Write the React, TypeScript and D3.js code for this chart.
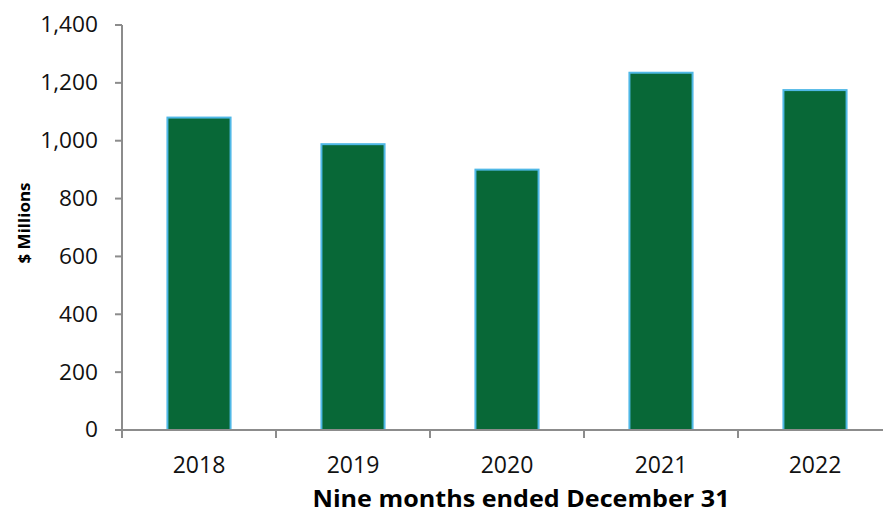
import React from "react";
import * as d3 from "d3";

const years = ["2018", "2019", "2020", "2021", "2022"];
const values = [1080, 988, 900, 1235, 1175];
const yTicks = [0, 200, 400, 600, 800, 1000, 1200, 1400];
const xTitle = "Nine months ended December 31";
const yTitle = "$ Millions";

export default function App() {
  const W = 883, H = 514;
  const left = 122, right = 892, top = 25, bottom = 430;
  const x = d3.scaleBand<string>().domain(years).range([left, right]).padding(0);
  const y = d3.scaleLinear().domain([0, 1400]).range([bottom, top]);
  const bw = x.bandwidth() * 0.41;
  const fmt = d3.format(",");
  const axisColor = "#8c8c8c";
  const font = "'Open Sans', sans-serif";
  const boundaries = [...years.map((d) => x(d) as number), right];
  return (
    <svg width={W} height={H} style={{ position: "absolute", left: 0, top: 0, background: "#fff" }}>
      {years.map((d, i) => {
        const cx = (x(d) as number) + x.bandwidth() / 2;
        return (
          <rect
            key={d}
            x={cx - bw / 2}
            y={y(values[i])}
            width={bw}
            height={bottom - y(values[i])}
            fill="#086837"
            stroke="#4fb8e6"
            strokeWidth={2}
          />
        );
      })}
      <line x1={left} x2={left} y1={top} y2={bottom} stroke={axisColor} strokeWidth={2} />
      <line x1={left - 7} x2={right} y1={bottom} y2={bottom} stroke={axisColor} strokeWidth={2} />
      {yTicks.map((t) => (
        <g key={t}>
          <line x1={left - 7} x2={left} y1={y(t)} y2={y(t)} stroke={axisColor} strokeWidth={2} />
          <text x={98} y={y(t) + 7.5} textAnchor="end" fontFamily={font} fontSize={21} fill="#111"
            transform={`translate(98 0) scale(1.08 1) translate(-98 0)`}>
            {fmt(t)}
          </text>
        </g>
      ))}
      {boundaries.map((b, i) => (
        <line key={i} x1={b} x2={b} y1={bottom} y2={bottom + 8} stroke={axisColor} strokeWidth={2} />
      ))}
      {years.map((d) => (
        <text
          key={d}
          x={(x(d) as number) + x.bandwidth() / 2}
          y={473}
          textAnchor="middle"
          fontFamily={font}
          fontSize={23}
          fill="#111"
        >
          {d}
        </text>
      ))}
      <text x={521} y={507} textAnchor="middle" fontFamily={font} fontSize={23} fontWeight="bold" fill="#000"
        textLength={417} lengthAdjust="spacingAndGlyphs">
        {xTitle}
      </text>
      <text
        transform={`translate(30, 223) rotate(-90)`}
        textAnchor="middle"
        fontFamily={font}
        fontSize={16}
        fontWeight="bold"
        fill="#000"
        textLength={81}
        lengthAdjust="spacingAndGlyphs"
      >
        {yTitle}
      </text>
    </svg>
  );
}
